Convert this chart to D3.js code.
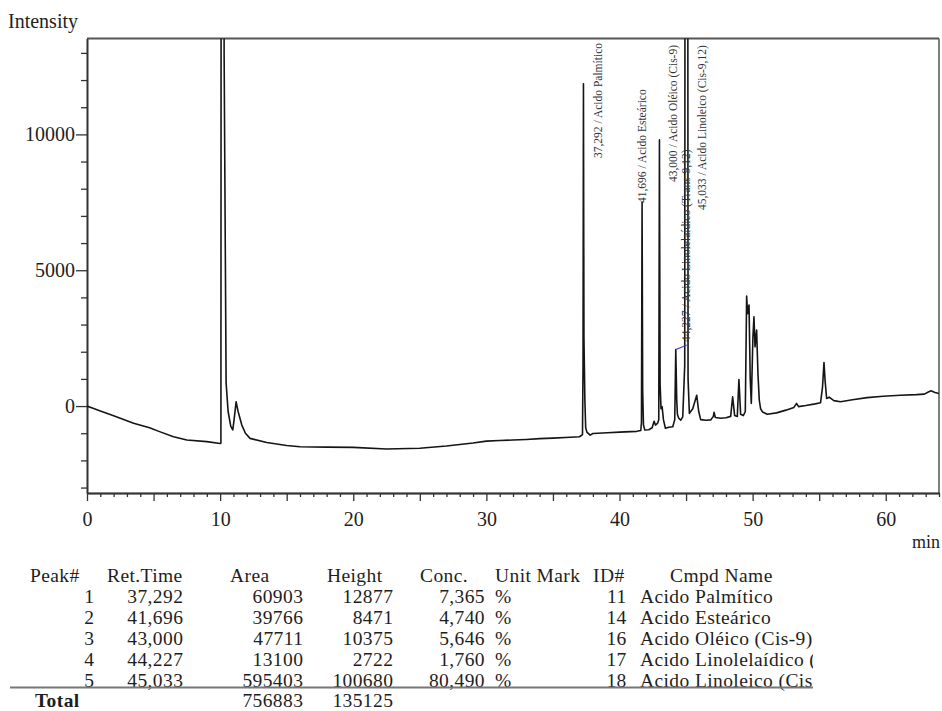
<!DOCTYPE html>
<html>
<head>
<meta charset="utf-8">
<script src="https://cdn.jsdelivr.net/npm/d3@7/dist/d3.min.js"></script>
<style>
  html, body { margin: 0; padding: 0; background: #fff; }
  svg { display: block; font-family: "Liberation Serif", "Times New Roman", serif; }
</style>
</head>
<body>
<svg id="chart" width="942" height="711"></svg>
<script>
// ---- Chromatogram trace: [retention time (min), intensity] ----
const trace = [
  [0, 0], [0.5, -90], [1, -180], [2, -360], [3, -540], [3.5, -630], [4.7, -800],
  [5.5, -950], [6.5, -1130], [7.5, -1250], [9, -1310], [10, -1375], [10.06, -1360],
  [10.18, 150000], [10.30, 13000], [10.45, 850], [10.6, -200], [10.8, -750],
  [10.95, -880], [11.05, -500], [11.2, 160], [11.35, -200], [11.63, -700],
  [11.9, -1000], [12.25, -1190], [13.5, -1340], [15, -1450], [16, -1500],
  [18, -1510], [20, -1520], [22.5, -1580], [25, -1550], [27, -1470], [29, -1360],
  [30, -1290], [31, -1270], [32, -1250], [33, -1230], [34, -1200], [35, -1180],
  [36.3, -1150], [37.0, -1130], [37.22, -1050], [37.26, 1500], [37.292, 11860],
  [37.33, 2500], [37.40, 200], [37.46, -800], [37.55, -960], [37.8, -1070],
  [38.0, -1010], [39.1, -980], [40, -960], [41.3, -930], [41.60, -900],
  [41.65, -600], [41.696, 7514], [41.74, 600], [41.80, -700], [41.9, -880],
  [42.2, -870], [42.45, -800], [42.6, -560], [42.7, -700], [42.85, -640],
  [42.95, -500], [43.0, 9797], [43.05, 800], [43.12, -100], [43.2, -20],
  [43.3, -500], [43.45, -820], [43.7, -780], [44.0, -760], [44.15, -500],
  [44.227, 2080], [44.30, 200], [44.35, -300], [44.45, -450], [44.6, -520],
  [44.75, -400], [44.90, 1500], [45.033, 100300], [45.15, 1000], [45.25, -270],
  [45.5, -100], [45.8, 400], [45.95, -200], [46.1, -500], [46.5, -520],
  [46.85, -510], [47.05, -380], [47.1, -230], [47.2, -420], [47.6, -450],
  [48.0, -430], [48.35, -380], [48.5, 340], [48.65, -350], [48.85, -380],
  [48.97, 980], [49.1, -300], [49.3, -350], [49.45, -200], [49.55, 4050],
  [49.62, 3400], [49.73, 3720], [49.82, 1000], [49.9, 100], [50.02, 2500],
  [50.1, 3290], [50.18, 2180], [50.3, 2800], [50.4, 1200], [50.5, 220],
  [50.6, -100], [50.75, -220], [51.1, -300], [51.8, -250], [52.5, -150],
  [53.1, -50], [53.3, 100], [53.45, -20], [54.0, 20], [54.7, 80], [55.1, 120],
  [55.25, 700], [55.36, 1600], [55.45, 900], [55.56, 280], [55.75, 330],
  [56.1, 200], [56.6, 160], [57.5, 230], [58.6, 310], [59.8, 360], [61.1, 400],
  [62.3, 420], [62.9, 440], [63.2, 520], [63.4, 560], [63.7, 500], [64, 460]
];

// Integration baseline drawn under the 44/45 min pair
const integrationBaseline = [[44.25, 2080], [45.05, 2250]];

// ---- Peak table ----
const peakNo    = [1, 2, 3, 4, 5];
const retTime   = [37.292, 41.696, 43.000, 44.227, 45.033];
const area      = [60903, 39766, 47711, 13100, 595403];
const height    = [12877, 8471, 10375, 2722, 100680];
const conc      = [7.365, 4.740, 5.646, 1.760, 80.490];
const unit      = ["%", "%", "%", "%", "%"];
const compoundId = [11, 14, 16, 17, 18];
const compound  = ["Acido Palmítico", "Acido Esteárico", "Acido Oléico (Cis-9)",
                   "Acido Linolelaídico (Trans-9,12)", "Acido Linoleico (Cis-9,12)"];

// ---- Axis ticks ----
const yLabelTicks = [0, 5000, 10000];
const xLabelTicks = [0, 10, 20, 30, 40, 50, 60];

// Peak label placement (px offset right of peak, label foot y)
const labelPlacement = [
  { dx: 18.5, foot: 158 }, { dx: 4, foot: 203 }, { dx: 18, foot: 182 },
  { dx: 14, foot: 342 }, { dx: 19.5, foot: 210 }
];

const locale = d3.formatLocale({ decimal: ",", thousands: "", grouping: [3], currency: ["", ""] });
const fmt3 = locale.format(".3f");

const svg = d3.select("#chart");
const plot = { left: 87, right: 939, top: 38.5, bottom: 493 };

const x = d3.scaleLinear().domain([0, 64]).range([plot.left, plot.right]);
const y = d3.scaleLinear().domain([-3200, 13530]).range([plot.bottom, plot.top]);

svg.append("defs").append("clipPath").attr("id", "plotClip")
  .append("rect")
  .attr("x", plot.left).attr("y", plot.top)
  .attr("width", plot.right - plot.left).attr("height", plot.bottom - plot.top);

// Frame (top and right)
svg.append("line").attr("x1", plot.left).attr("x2", plot.right)
  .attr("y1", plot.top).attr("y2", plot.top)
  .attr("stroke", "#555").attr("stroke-width", 2);
svg.append("line").attr("x1", plot.right).attr("x2", plot.right)
  .attr("y1", plot.top).attr("y2", plot.bottom)
  .attr("stroke", "#555").attr("stroke-width", 1.5);

// Y axis: minor ticks every 1000, labelled every 5000
const yMinor = d3.range(-3000, 13001, 1000).filter(v => !yLabelTicks.includes(v));
svg.append("g").attr("transform", `translate(${plot.left},0)`)
  .call(d3.axisLeft(y).tickValues(yMinor).tickSize(6).tickSizeOuter(0).tickFormat(""));
svg.append("g").attr("transform", `translate(${plot.left},0)`)
  .call(d3.axisLeft(y).tickValues(yLabelTicks).tickSize(11).tickPadding(1)
    .tickSizeOuter(0).tickFormat(d3.format("d")));

// X axis: minor ticks every minute, longer every 5, labelled every 10
const xMinor = d3.range(0, 65, 1).filter(v => v % 5 !== 0);
const xMid = d3.range(0, 65, 5).filter(v => v % 10 !== 0);
svg.append("g").attr("transform", `translate(0,${plot.bottom})`)
  .call(d3.axisBottom(x).tickValues(xMinor).tickSize(4).tickSizeOuter(0).tickFormat(""));
svg.append("g").attr("transform", `translate(0,${plot.bottom})`)
  .call(d3.axisBottom(x).tickValues(xMid).tickSize(8).tickSizeOuter(0).tickFormat(""));
svg.append("g").attr("transform", `translate(0,${plot.bottom})`)
  .call(d3.axisBottom(x).tickValues(xLabelTicks).tickSize(8).tickPadding(11)
    .tickSizeOuter(0).tickFormat(d3.format("d")));

svg.selectAll(".domain").attr("stroke", "#333").attr("stroke-width", 1.6);
svg.selectAll(".tick line").attr("stroke", "#333").attr("stroke-width", 1.3);
svg.selectAll(".tick text")
  .attr("font-family", "Liberation Serif, Times New Roman, serif")
  .attr("font-size", 20).attr("fill", "#1e1e1e");

// Axis titles
svg.append("text").attr("x", 8).attr("y", 27.5)
  .attr("font-size", 20).attr("fill", "#222").text("Intensity");
svg.append("text").attr("x", 940).attr("y", 548).attr("text-anchor", "end")
  .attr("font-size", 18).attr("fill", "#222").text("min");

// Trace
const line = d3.line().x(d => x(d[0])).y(d => y(d[1]));
const g = svg.append("g").attr("clip-path", "url(#plotClip)");
g.append("path").datum(trace)
  .attr("d", line)
  .attr("fill", "none").attr("stroke", "#151515").attr("stroke-width", 1.6)
  .attr("stroke-linejoin", "round");
g.append("path").datum(integrationBaseline)
  .attr("d", line)
  .attr("fill", "none").attr("stroke", "#3a3ae0").attr("stroke-width", 1.2);

// Peak labels
retTime.forEach((t, i) => {
  const p = labelPlacement[i];
  svg.append("text")
    .attr("transform", `translate(${x(t) + p.dx},${p.foot}) rotate(-90)`)
    .attr("font-size", 11.5).attr("fill", "#333")
    .text(`${fmt3(t)} / ${compound[i]}`);
});

// Peak table
const table = svg.append("g").attr("font-size", 19.5)
  .attr("letter-spacing", 0.4).attr("fill", "#1e1e1e");
const headers = [
  ["Peak#", 30], ["Ret.Time", 107], ["Area", 230], ["Height", 327], ["Conc.", 420],
  ["Unit Mark", 495], ["ID#", 593], ["Cmpd Name", 670]
];
const headerY = 581.7, rowH = 21;
headers.forEach(([h, hx]) => table.append("text").attr("x", hx).attr("y", headerY).text(h));

svg.append("defs").append("clipPath").attr("id", "nameClip")
  .append("rect").attr("x", 600).attr("y", 560).attr("width", 213).attr("height", 140);

peakNo.forEach((n, i) => {
  const ry = headerY + rowH * (i + 1);
  const right = (txt, rx) => table.append("text").attr("x", rx).attr("y", ry)
    .attr("text-anchor", "end").text(txt);
  right(n, 94.3);
  right(fmt3(retTime[i]), 183.3);
  right(area[i], 303.3);
  right(height[i], 393.3);
  right(fmt3(conc[i]), 485);
  table.append("text").attr("x", 495).attr("y", ry).text(unit[i]);
  right(compoundId[i], 626.7);
  table.append("text").attr("x", 640).attr("y", ry)
    .attr("clip-path", "url(#nameClip)").text(compound[i]);
});

svg.append("line").attr("x1", 10).attr("x2", 813).attr("y1", 687.5).attr("y2", 687.5)
  .attr("stroke", "#777").attr("stroke-width", 2);

const totalY = 706.7;
table.append("text").attr("x", 35).attr("y", totalY).attr("font-weight", "bold").text("Total");
table.append("text").attr("x", 303.3).attr("y", totalY).attr("text-anchor", "end").text(d3.sum(area));
table.append("text").attr("x", 393.3).attr("y", totalY).attr("text-anchor", "end").text(d3.sum(height));
</script>
</body>
</html>
